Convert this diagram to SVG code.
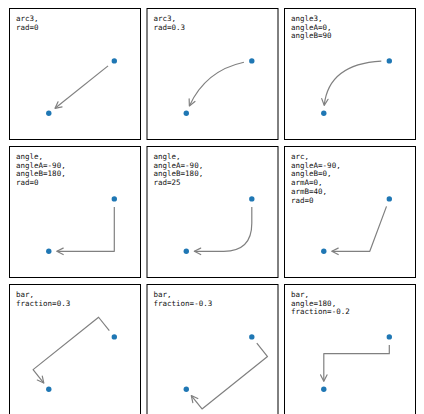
<svg xmlns="http://www.w3.org/2000/svg" width="424" height="414" viewBox="0 0 424 414">
<style>
.frame{fill:#fff;stroke:#000;stroke-width:1}
.lbl{font-family:"DejaVu Sans Mono","Liberation Mono",monospace;font-size:7.5px;fill:#111}
.dot{fill:#1f77b4}
.conn{fill:none;stroke:#808080;stroke-width:1.2;stroke-linejoin:round;marker-end:url(#arr)}
</style>
<defs>
<marker id="arr" markerUnits="userSpaceOnUse" markerWidth="20" markerHeight="20" refX="0" refY="0" orient="auto" overflow="visible">
<path d="M-6.4,-3.2 L0,0 L-6.4,3.2" fill="none" stroke="#808080" stroke-width="1.2" stroke-linejoin="round" stroke-linecap="round"/>
</marker>
</defs>
<rect width="424" height="414" fill="#fff"/>
<g id="panel-arc3-rad0" transform="translate(9.5,8.5)">
<rect class="frame" width="131" height="131"/>
<text class="lbl" y="12.3"><tspan x="6.5">arc3,</tspan><tspan x="6.5" dy="8.8">rad=0</tspan></text>
<circle class="dot" cx="104.8" cy="52.4" r="2.7"/><circle class="dot" cx="39.3" cy="104.8" r="2.7"/>
</g>
<g id="panel-arc3-rad03" transform="translate(147,8.5)">
<rect class="frame" width="131" height="131"/>
<text class="lbl" y="12.3"><tspan x="6.5">arc3,</tspan><tspan x="6.5" dy="8.8">rad=0.3</tspan></text>
<circle class="dot" cx="104.8" cy="52.4" r="2.7"/><circle class="dot" cx="39.3" cy="104.8" r="2.7"/>
</g>
<g id="panel-angle3" transform="translate(284.5,8.5)">
<rect class="frame" width="131" height="131"/>
<text class="lbl" y="12.3"><tspan x="6.5">angle3,</tspan><tspan x="6.5" dy="8.8">angleA=0,</tspan><tspan x="6.5" dy="8.8">angleB=90</tspan></text>
<circle class="dot" cx="104.8" cy="52.4" r="2.7"/><circle class="dot" cx="39.3" cy="104.8" r="2.7"/>
</g>
<g id="panel-angle-rad0" transform="translate(9.5,146.5)">
<rect class="frame" width="131" height="131"/>
<text class="lbl" y="12.3"><tspan x="6.5">angle,</tspan><tspan x="6.5" dy="8.8">angleA=-90,</tspan><tspan x="6.5" dy="8.8">angleB=180,</tspan><tspan x="6.5" dy="8.8">rad=0</tspan></text>
<circle class="dot" cx="104.8" cy="52.4" r="2.7"/><circle class="dot" cx="39.3" cy="104.8" r="2.7"/>
</g>
<g id="panel-angle-rad25" transform="translate(147,146.5)">
<rect class="frame" width="131" height="131"/>
<text class="lbl" y="12.3"><tspan x="6.5">angle,</tspan><tspan x="6.5" dy="8.8">angleA=-90,</tspan><tspan x="6.5" dy="8.8">angleB=180,</tspan><tspan x="6.5" dy="8.8">rad=25</tspan></text>
<circle class="dot" cx="104.8" cy="52.4" r="2.7"/><circle class="dot" cx="39.3" cy="104.8" r="2.7"/>
</g>
<g id="panel-arc" transform="translate(284.5,146.5)">
<rect class="frame" width="131" height="131"/>
<text class="lbl" y="12.3"><tspan x="6.5">arc,</tspan><tspan x="6.5" dy="8.8">angleA=-90,</tspan><tspan x="6.5" dy="8.8">angleB=0,</tspan><tspan x="6.5" dy="8.8">armA=0,</tspan><tspan x="6.5" dy="8.8">armB=40,</tspan><tspan x="6.5" dy="8.8">rad=0</tspan></text>
<circle class="dot" cx="104.8" cy="52.4" r="2.7"/><circle class="dot" cx="39.3" cy="104.8" r="2.7"/>
</g>
<g id="panel-bar-03" transform="translate(9.5,284.5)">
<rect class="frame" width="131" height="131"/>
<text class="lbl" y="12.3"><tspan x="6.5">bar,</tspan><tspan x="6.5" dy="8.8">fraction=0.3</tspan></text>
<circle class="dot" cx="104.8" cy="52.4" r="2.7"/><circle class="dot" cx="39.3" cy="104.8" r="2.7"/>
</g>
<g id="panel-bar-m03" transform="translate(147,284.5)">
<rect class="frame" width="131" height="131"/>
<text class="lbl" y="12.3"><tspan x="6.5">bar,</tspan><tspan x="6.5" dy="8.8">fraction=-0.3</tspan></text>
<circle class="dot" cx="104.8" cy="52.4" r="2.7"/><circle class="dot" cx="39.3" cy="104.8" r="2.7"/>
</g>
<g id="panel-bar-angle" transform="translate(284.5,284.5)">
<rect class="frame" width="131" height="131"/>
<text class="lbl" y="12.3"><tspan x="6.5">bar,</tspan><tspan x="6.5" dy="8.8">angle=180,</tspan><tspan x="6.5" dy="8.8">fraction=-0.2</tspan></text>
<circle class="dot" cx="104.8" cy="52.4" r="2.7"/><circle class="dot" cx="39.3" cy="104.8" r="2.7"/>
</g>
<g id="connectors">
<path class="conn" transform="translate(9.5,8.5)" d="M98.55,57.4 L45.55,99.8"/>
<path class="conn" transform="translate(147,8.5)" d="M96.92,53.77 Q58.74,61.96 42.37,97.41"/>
<path class="conn" transform="translate(284.5,8.5)" d="M96.81,52.61 Q44.17,55.44 39.71,96.81"/>
<path class="conn" transform="translate(9.5,146.5)" d="M104.8,60.4 L104.8,104.8 L47.3,104.8"/>
<path class="conn" transform="translate(147,146.5)" d="M104.8,60.4 L104.8,76.8 Q104.8,104.8 76.8,104.8 L47.3,104.8"/>
<path class="conn" transform="translate(284.5,146.5)" d="M102.01,59.9 L85.3,104.8 L47.3,104.8"/>
<path class="conn" transform="translate(9.5,284.5)" d="M99.8,46.15 L89.08,32.75 L23.58,85.15 L34.3,98.55"/>
<path class="conn" transform="translate(147,284.5)" d="M109.8,58.65 L120.52,72.05 L55.02,124.45 L44.3,111.05"/>
<path class="conn" transform="translate(284.5,284.5)" d="M104.8,60.4 L104.8,69.18 L39.3,69.18 L39.3,96.8"/>
</g>
</svg>
